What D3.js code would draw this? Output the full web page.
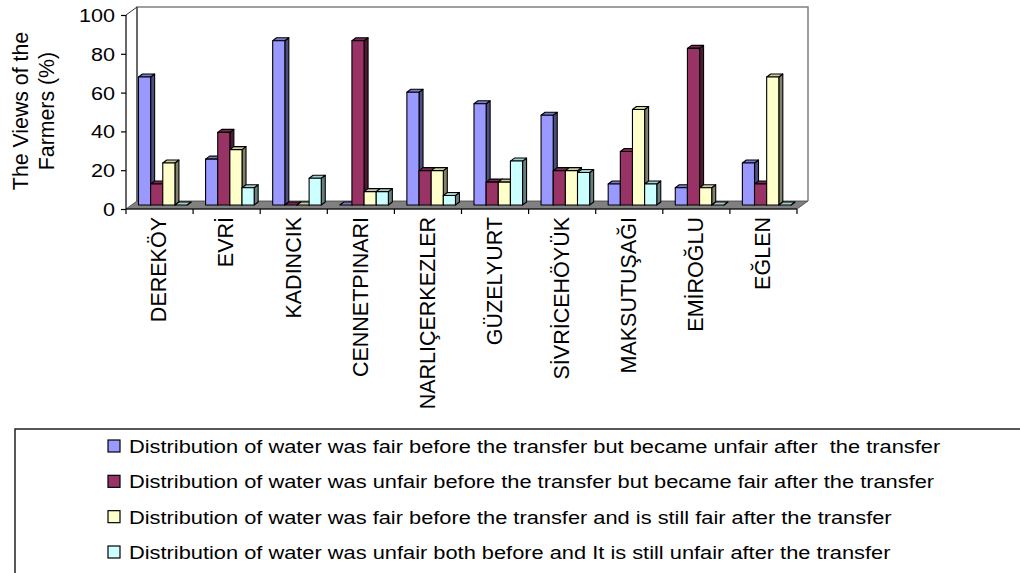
<!DOCTYPE html>
<html>
<head>
<meta charset="utf-8">
<script src="https://cdn.jsdelivr.net/npm/d3@7"></script>
<style>
  body { margin: 0; background: #fff; }
  text { font-family: "Liberation Sans", Arial, sans-serif; fill: #000; }
</style>
</head>
<body>
<div id="chart"></div>
<script>
const villages = ["DEREKÖY", "EVRİ", "KADINCIK", "CENNETPINARI", "NARLIÇERKEZLER",
  "GÜZELYURT", "SİVRİCEHÖYÜK", "MAKSUTUŞAĞI", "EMİROĞLU", "EĞLEN"];

const seriesNames = [
  "Distribution of water was fair before the transfer but became unfair after  the transfer",
  "Distribution of water was unfair before the transfer but became fair after the transfer",
  "Distribution of water was fair before the transfer and is still fair after the transfer",
  "Distribution of water was unfair both before and It is still unfair after the transfer"
];

const fairToUnfair      = [67, 24, 86, 0, 59, 53, 47, 11, 9, 22];
const unfairToFair      = [11, 38, 0, 86, 18, 12, 18, 28, 82, 11];
const fairStillFair     = [22, 29, 0, 7, 18, 12, 18, 50, 9, 67];
const unfairStillUnfair = [0, 9, 14, 7, 5, 23, 17, 11, 0, 0];

const yTicks = [0, 20, 40, 60, 80, 100];

// front, side, top colours per series
const colors = [
  { front: "#9999ff", side: "#4d4d80", top: "#7a7acc" },
  { front: "#993366", side: "#4d1a33", top: "#7a2952" },
  { front: "#ffffcc", side: "#80806b", top: "#cccca3" },
  { front: "#ccffff", side: "#668080", top: "#a3cccc" }
];

const allSeries = [fairToUnfair, unfairToFair, fairStillFair, unfairStillUnfair];

const width = 1020, height = 573;
const svg = d3.select("#chart").append("svg")
  .attr("width", width).attr("height", height);

// 3d offsets
const dx = 11, dy = -8;   // wall depth
const bx = 4, by = -3;    // bar depth

const xGroup = d3.scaleBand().domain(villages).range([126, 797]);
const xSeries = d3.scaleBand().domain(d3.range(4))
  .range([xGroup.bandwidth() * 0.186, xGroup.bandwidth() * 0.91]);
const yFront = d3.scaleLinear().domain([0, 100]).range([209, 15]);
const yBar = d3.scaleLinear().domain([0, 100]).range([205, 14]);

const x0 = xGroup.range()[0], x1 = xGroup.range()[1];
const wall = svg.append("g");

// floor
wall.append("polygon")
  .attr("points", [[x0, yFront(0)], [x1, yFront(0)], [x1 + dx, yFront(0) + dy], [x0 + dx, yFront(0) + dy]].join(" "))
  .attr("fill", "#808080").attr("stroke", "#404040").attr("stroke-width", 0.8);

// back wall edges
wall.append("path")
  .attr("d", `M${x0 + dx},${yFront(0) + dy}V${yFront(100) + dy}H${x1 + dx}V${yFront(0) + dy}`)
  .attr("fill", "none").attr("stroke", "#808080").attr("stroke-width", 1.5);
wall.append("line")
  .attr("x1", x0).attr("y1", yFront(100)).attr("x2", x0 + dx).attr("y2", yFront(100) + dy)
  .attr("stroke", "#333").attr("stroke-width", 1);
wall.append("line")
  .attr("x1", x0 + dx).attr("y1", yFront(100) + dy).attr("x2", x0 + dx).attr("y2", yFront(0) + dy)
  .attr("stroke", "#333").attr("stroke-width", 1);

// bars
const bars = [];
villages.forEach((v, i) => {
  allSeries.forEach((s, j) => {
    bars.push({ village: v, series: j, value: s[i] });
  });
});

const bar = svg.append("g").selectAll("g")
  .data(bars)
  .join("g")
  .attr("stroke", "#000").attr("stroke-width", 1.1).attr("stroke-linejoin", "round");

bar.each(function (d) {
  const g = d3.select(this);
  const x = xGroup(d.village) + xSeries(d.series);
  const w = xSeries.bandwidth();
  const yt = yBar(d.value), yb = yBar(0);
  const c = colors[d.series];
  g.append("polygon")
    .attr("points", [[x + w, yt], [x + w + bx, yt + by], [x + w + bx, yb + by], [x + w, yb]].join(" "))
    .attr("fill", c.side);
  g.append("polygon")
    .attr("points", [[x, yt], [x + bx, yt + by], [x + w + bx, yt + by], [x + w, yt]].join(" "))
    .attr("fill", c.top);
  g.append("rect")
    .attr("x", x).attr("y", yt).attr("width", w).attr("height", yb - yt)
    .attr("fill", c.front);
});

// y axis
const yAxis = svg.append("g")
  .attr("transform", `translate(${x0},0)`)
  .call(d3.axisLeft(yFront).tickValues(yTicks).tickSize(5).tickPadding(0));
yAxis.select(".domain").attr("stroke", "#000").attr("stroke-width", 1.2)
  .attr("d", `M0,${yFront(100)}V${yFront(0)}`);
yAxis.selectAll(".tick line").attr("stroke", "#000").attr("stroke-width", 1.2);
yAxis.selectAll(".tick text")
  .attr("font-family", "Liberation Sans, Arial, sans-serif")
  .attr("font-size", 18)
  .attr("x", -11 / 1.2)
  .attr("dy", "0.36em")
  .attr("transform", "scale(1.2,1)");

// x axis line and ticks at group boundaries
const xAxis = svg.append("g");
xAxis.append("line")
  .attr("x1", x0).attr("x2", x1).attr("y1", yFront(0)).attr("y2", yFront(0))
  .attr("stroke", "#000").attr("stroke-width", 1.2);
xAxis.selectAll(".xtick")
  .data(villages.map(v => xGroup(v)).concat([x1]))
  .join("line")
  .attr("x1", d => d).attr("x2", d => d)
  .attr("y1", yFront(0)).attr("y2", yFront(0) + 5)
  .attr("stroke", "#000").attr("stroke-width", 1.2);

xAxis.selectAll(".xlabel")
  .data(villages)
  .join("text")
  .attr("transform", d => `translate(${xGroup(d) + xGroup.bandwidth() / 2 - 1},${yFront(0) + 8}) rotate(-90)`)
  .attr("text-anchor", "end")
  .attr("dy", "0.36em")
  .attr("font-size", 21.5)
  .text(d => d);

// y axis title
const yTitle = svg.append("text")
  .attr("transform", "translate(28,111) rotate(-90)")
  .attr("text-anchor", "middle")
  .attr("font-size", 21.3);
yTitle.append("tspan").attr("x", 0).attr("y", 0).text("The Views of the");
yTitle.append("tspan").attr("x", 0).attr("y", 26).text("Farmers (%)");

// legend
const legend = svg.append("g");
legend.append("rect")
  .attr("x", 15).attr("y", 429).attr("width", 1020).attr("height", 200)
  .attr("fill", "#fff").attr("stroke", "#222").attr("stroke-width", 1.5);

const legendY = d3.scalePoint().domain(d3.range(4)).range([453, 559]);
const item = legend.selectAll(".item")
  .data(seriesNames)
  .join("g")
  .attr("transform", (d, i) => `translate(0,${legendY(i)})`);
item.append("rect")
  .attr("x", 108).attr("y", -13).attr("width", 12).attr("height", 12)
  .attr("fill", (d, i) => colors[i].front)
  .attr("stroke", "#000").attr("stroke-width", 1.2);
item.append("text")
  .attr("transform", "translate(129,0) scale(1.18,1)")
  .attr("font-size", 18.5)
  .style("white-space", "pre")
  .text(d => d);
</script>
</body>
</html>
